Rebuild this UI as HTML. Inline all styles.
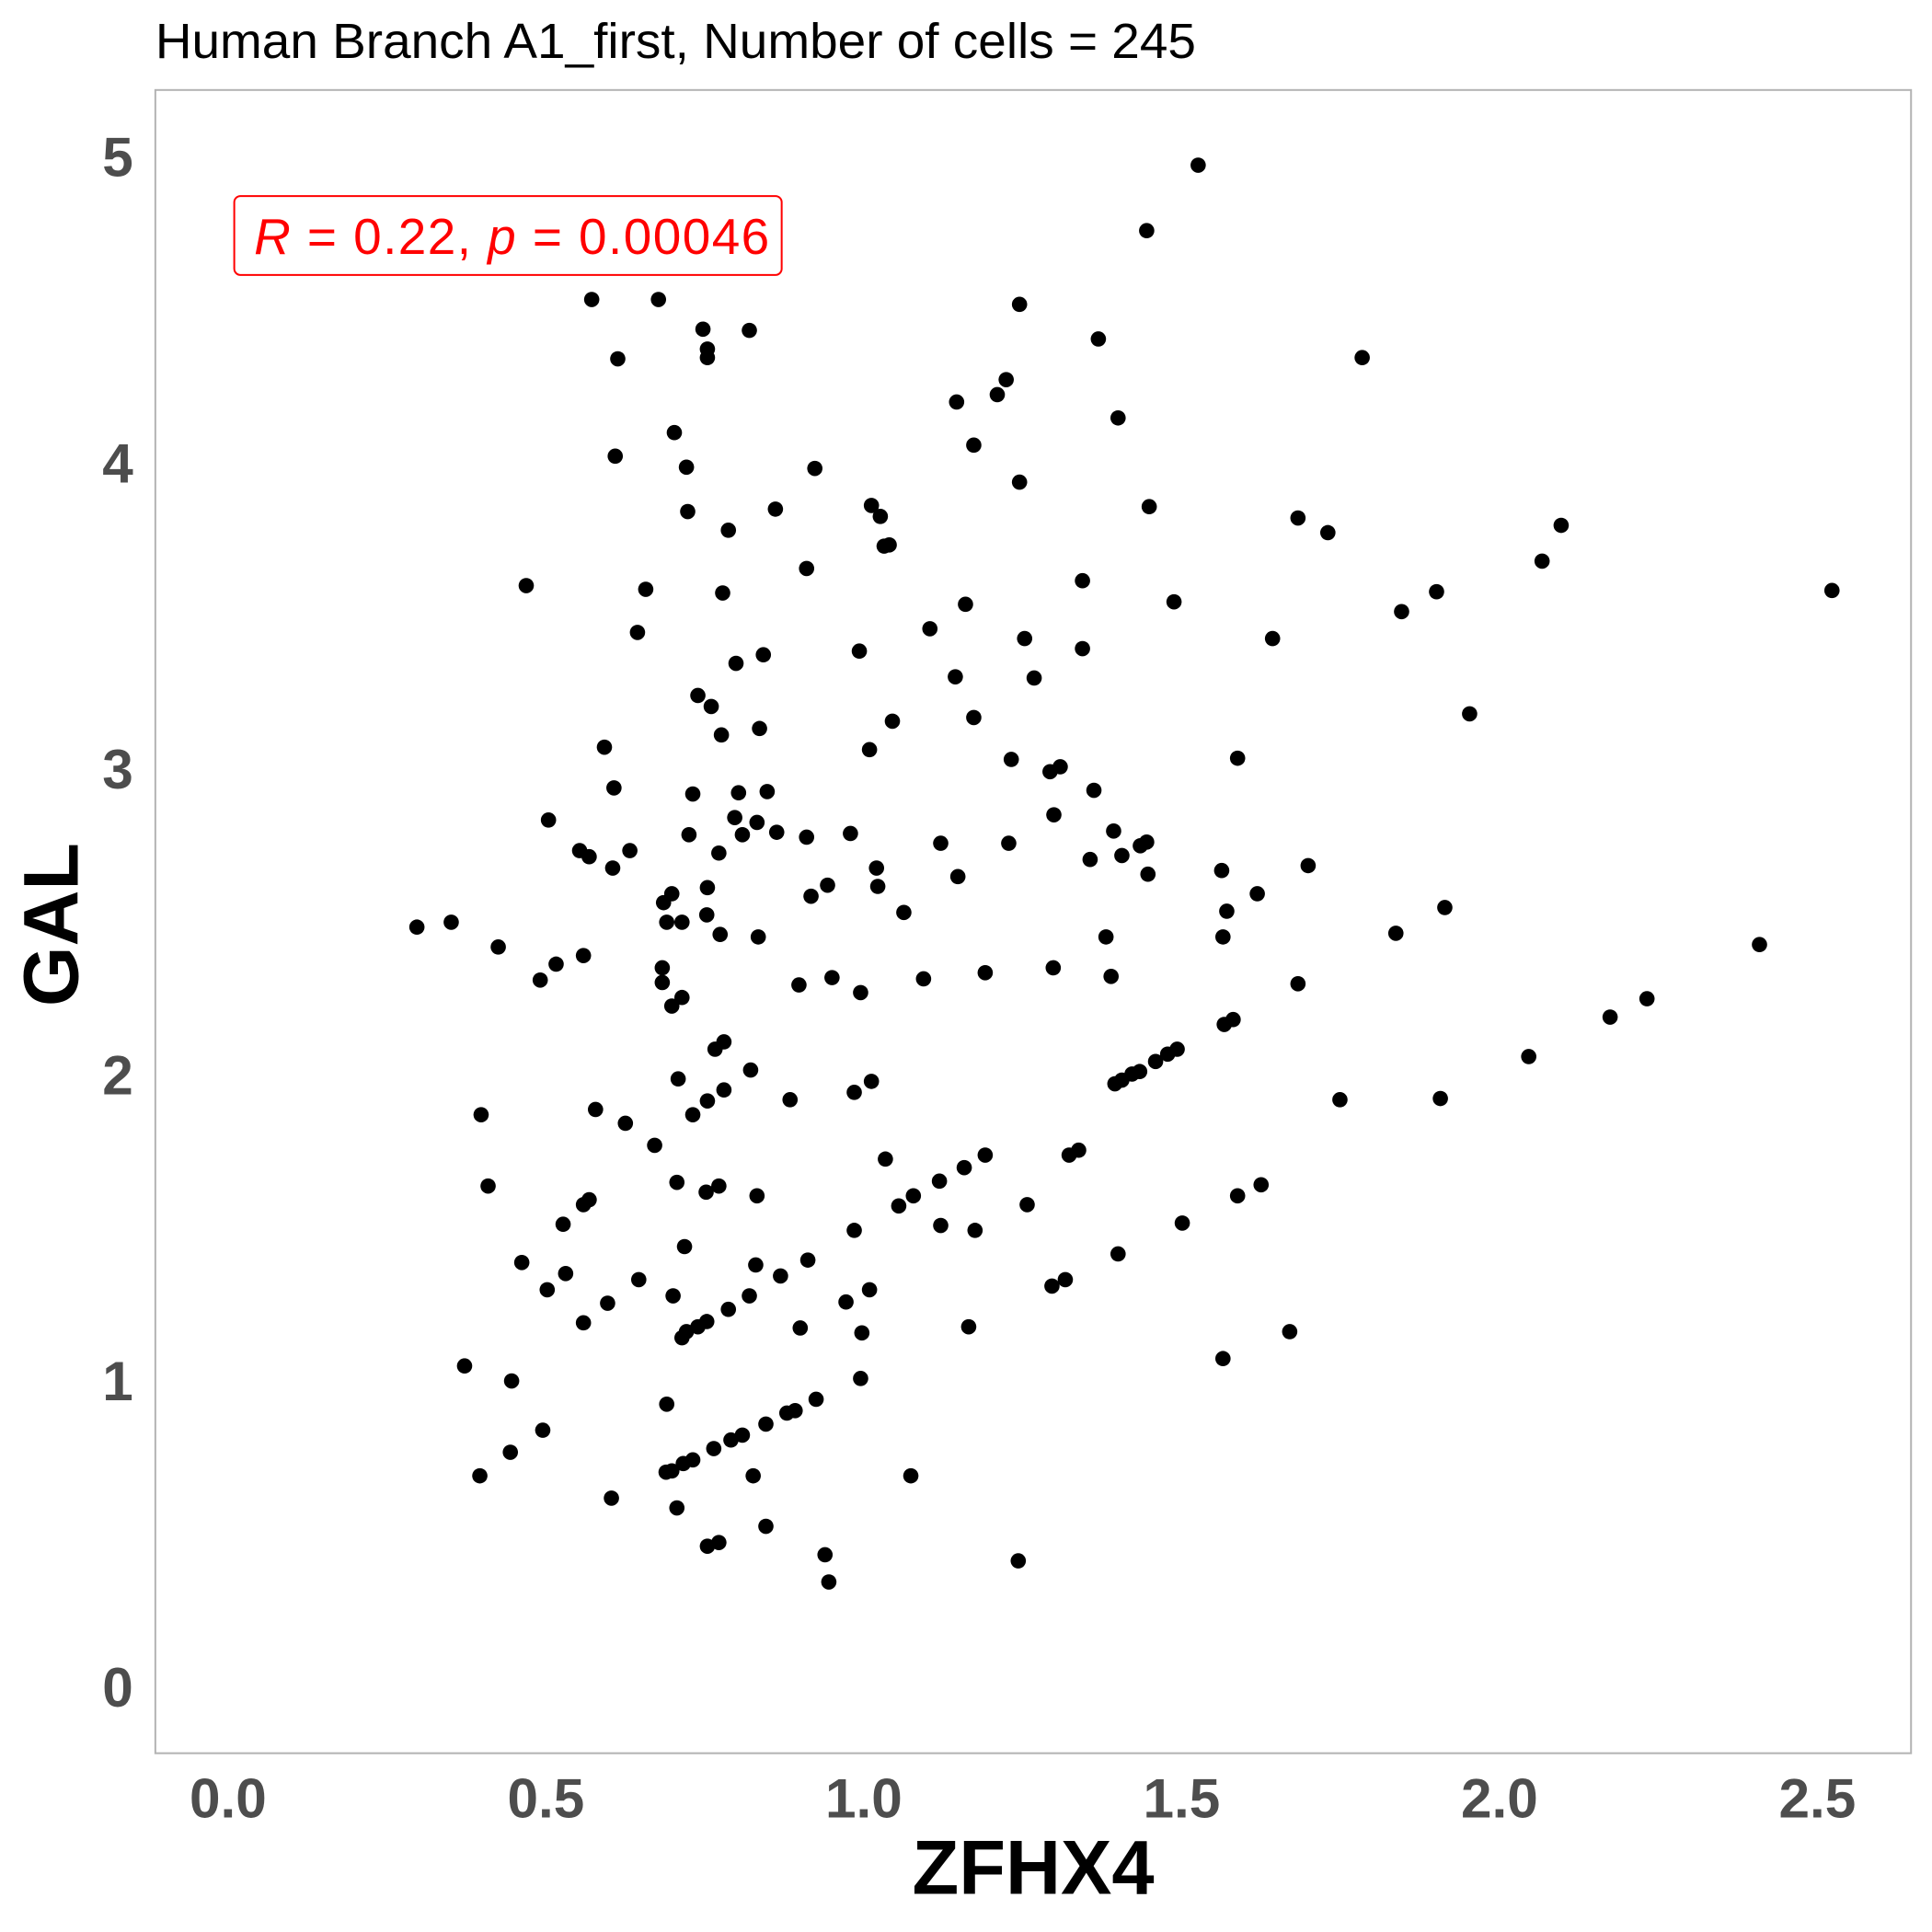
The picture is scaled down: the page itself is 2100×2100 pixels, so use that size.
<!DOCTYPE html>
<html><head><meta charset="utf-8"><style>html,body{margin:0;padding:0;background:#fff}svg{display:block}</style></head>
<body>
<svg id="chart" width="2100" height="2100" viewBox="0 0 1567 1567" xmlns="http://www.w3.org/2000/svg" font-family="Liberation Sans, sans-serif">
<rect x="0" y="0" width="1567" height="1567" fill="#fff"/>
<text x="126" y="47" font-size="34" textLength="844" lengthAdjust="spacingAndGlyphs" fill="#000" style="font-size:40px">Human Branch A1_first, Number of cells = 245</text>
<rect x="126" y="73" width="1424" height="1349" fill="none" stroke="#b3b3b3" stroke-width="1.5"/>
<g id="xticks"></g>
<g id="yticks"></g>
<g id="points"></g>
<g>
<rect x="190" y="159" width="444" height="64" rx="5" fill="#fff" stroke="#ff0000" stroke-width="1.5"/>
<text x="206" y="206" font-size="41" textLength="418" lengthAdjust="spacing" fill="#ff0000"><tspan font-style="italic">R</tspan> = 0.22, <tspan font-style="italic">p</tspan> = 0.00046</text>
</g>
<text x="838" y="1536" font-size="62" font-weight="bold" text-anchor="middle" fill="#000">ZFHX4</text>
<text transform="translate(63,750) rotate(-90)" font-size="63" font-weight="bold" text-anchor="middle" fill="#000">GAL</text>
</svg>
<script>
const xTickValues = [0, 0.5, 1.0, 1.5, 2.0, 2.5];
const xTickLabels = ["0.0", "0.5", "1.0", "1.5", "2.0", "2.5"];
const yTickValues = [0, 1, 2, 3, 4, 5];
const yTickLabels = ["0", "1", "2", "3", "4", "5"];
const xValues = [1.526,1.445,1.245,0.572,0.677,0.747,0.820,0.754,0.754,0.613,1.369,1.784,1.224,1.210,1.146,1.400,0.702,1.173,0.609,0.721,0.923,1.245,1.012,1.026,0.861,0.723,1.449,0.787,1.032,1.040,1.683,1.730,2.097,2.067,0.910,1.344,0.469,0.657,0.778,1.488,1.901,2.523,1.160,1.846,0.644,1.104,1.253,1.643,0.993,1.344,0.842,0.799,1.144,1.268,0.739,0.760,1.953,1.045,1.173,0.836,0.776,0.592,1.009,1.232,1.588,1.293,1.309,0.607,0.731,0.803,0.848,1.362,0.504,0.797,0.832,1.299,0.725,0.809,0.863,0.910,0.979,1.393,0.553,0.568,0.632,0.772,1.121,1.228,1.435,1.445,1.406,1.356,0.605,1.020,1.699,1.148,1.447,1.563,0.943,1.022,0.698,0.754,0.917,1.619,0.685,1.063,1.571,1.914,0.753,0.297,0.351,0.690,0.714,0.774,0.834,1.381,1.565,1.837,0.425,2.409,0.559,0.516,0.683,1.298,0.491,0.683,0.950,1.094,1.389,1.191,0.898,1.683,0.995,0.714,0.698,2.232,2.174,1.567,1.581,0.780,0.766,1.493,1.478,1.459,2.046,1.434,1.422,1.406,1.395,0.822,0.708,1.012,0.780,0.985,0.754,0.884,1.749,1.907,0.578,0.398,0.731,0.625,0.671,1.338,1.323,1.034,1.191,1.158,1.119,0.706,0.409,0.772,0.752,1.625,0.832,1.078,1.588,0.568,0.559,1.055,1.257,0.527,1.121,1.501,0.985,1.175,0.718,1.400,0.462,0.912,0.830,0.531,0.869,0.646,1.317,1.296,0.502,1.009,0.700,0.820,0.597,0.972,0.787,0.559,0.753,0.739,1.165,0.721,0.714,0.900,0.997,1.670,1.565,0.372,0.446,0.995,0.690,0.925,0.892,0.879,0.846,0.495,0.809,0.791,0.764,0.444,0.731,0.716,0.689,0.698,0.396,0.826,1.074,0.603,0.706,0.846,0.772,0.754,0.939,1.243,0.945];
const yValues = [4.972,4.758,4.517,4.533,4.533,4.436,4.432,4.371,4.343,4.339,4.404,4.343,4.271,4.222,4.198,4.146,4.098,4.057,4.021,3.985,3.981,3.936,3.860,3.824,3.848,3.840,3.856,3.779,3.727,3.731,3.819,3.771,3.795,3.678,3.654,3.614,3.598,3.586,3.574,3.545,3.578,3.582,3.537,3.513,3.445,3.457,3.425,3.425,3.384,3.392,3.372,3.344,3.300,3.296,3.239,3.203,3.179,3.155,3.167,3.131,3.110,3.070,3.062,3.030,3.034,2.990,3.006,2.937,2.917,2.921,2.925,2.929,2.832,2.840,2.824,2.849,2.784,2.784,2.792,2.776,2.788,2.796,2.732,2.712,2.732,2.724,2.756,2.756,2.748,2.760,2.716,2.703,2.675,2.675,2.683,2.647,2.655,2.667,2.619,2.615,2.591,2.611,2.583,2.591,2.562,2.530,2.534,2.546,2.522,2.482,2.498,2.498,2.498,2.458,2.450,2.450,2.450,2.462,2.417,2.425,2.389,2.361,2.349,2.349,2.309,2.301,2.317,2.313,2.321,2.333,2.293,2.297,2.268,2.252,2.224,2.248,2.188,2.164,2.180,2.107,2.083,2.083,2.067,2.043,2.059,2.010,2.002,1.982,1.970,2.015,1.986,1.978,1.950,1.942,1.914,1.918,1.918,1.922,1.886,1.869,1.869,1.841,1.769,1.753,1.737,1.724,1.737,1.696,1.652,1.648,1.636,1.636,1.616,1.640,1.604,1.604,1.604,1.591,1.575,1.571,1.575,1.511,1.507,1.515,1.491,1.491,1.438,1.414,1.386,1.394,1.378,1.350,1.342,1.330,1.330,1.309,1.297,1.297,1.277,1.277,1.253,1.257,1.233,1.189,1.193,1.176,1.176,1.160,1.140,1.172,1.156,1.160,1.072,1.048,0.999,1.007,0.923,0.939,0.902,0.894,0.858,0.838,0.822,0.806,0.778,0.766,0.741,0.729,0.701,0.705,0.689,0.689,0.689,0.616,0.584,0.524,0.471,0.459,0.431,0.411,0.342];

const NS = "http://www.w3.org/2000/svg";
function xScale(v){ return 185 + v * 515.6; }
function yScale(v){ return 1368 - v * 248.2; }

const xg = document.getElementById('xticks');
xTickValues.forEach((v,i)=>{
  const t = document.createElementNS(NS,'text');
  
  
  t.setAttribute('x', xScale(v)); t.setAttribute('y', 1474);
  t.setAttribute('font-size','45'); t.setAttribute('font-weight','bold');
  t.setAttribute('fill','#4d4d4d'); t.setAttribute('text-anchor','middle');
  t.textContent = xTickLabels[i]; xg.appendChild(t);
});
const yg = document.getElementById('yticks');
yTickValues.forEach((v,i)=>{
  const t = document.createElementNS(NS,'text');
  
  
  t.setAttribute('x', 108); t.setAttribute('y', yScale(v)+16);
  t.setAttribute('font-size','45'); t.setAttribute('font-weight','bold');
  t.setAttribute('fill','#4d4d4d'); t.setAttribute('text-anchor','end');
  t.textContent = yTickLabels[i]; yg.appendChild(t);
});
const pg = document.getElementById('points');
xValues.forEach((v,i)=>{
  const c = document.createElementNS(NS,'circle');
  
  
  c.setAttribute('cx', xScale(v)); c.setAttribute('cy', yScale(yValues[i]));
  c.setAttribute('r', 6.2); c.setAttribute('fill','#000');
  pg.appendChild(c);
});
</script>
</body></html>
